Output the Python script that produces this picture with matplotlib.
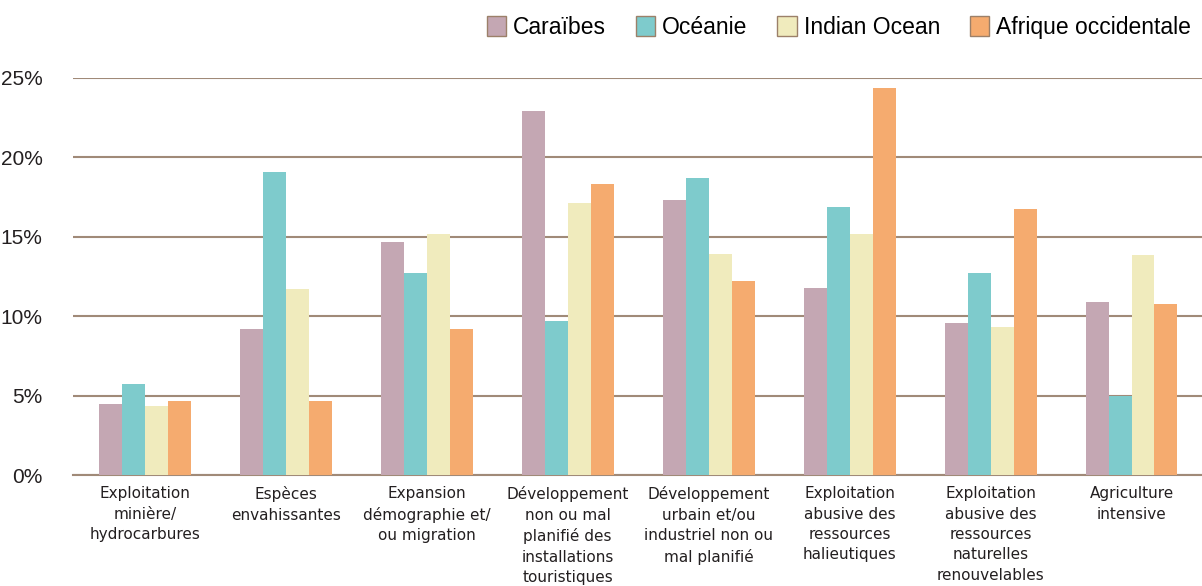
import matplotlib.pyplot as plt
import numpy as np

# categories and values (percent)
categories = [
    "Exploitation\nminière/\nhydrocarbures",
    "Espèces\nenvahissantes",
    "Expansion\ndémographie et/\nou migration",
    "Développement\nnon ou mal\nplanifié des\ninstallations\ntouristiques",
    "Développement\nurbain et/ou\nindustriel non ou\nmal planifié",
    "Exploitation\nabusive des\nressources\nhalieutiques",
    "Exploitation\nabusive des\nressources\nnaturelles\nrenouvelables",
    "Agriculture\nintensive",
]
series_names = ["Caraïbes", "Océanie", "Indian Ocean", "Afrique occidentale"]
caraibes = [4.5, 9.2, 14.7, 22.9, 17.3, 11.8, 9.6, 10.9]
oceanie = [5.7, 19.1, 12.7, 9.7, 18.7, 16.9, 12.7, 5.0]
indian_ocean = [4.35, 11.7, 15.2, 17.1, 13.9, 15.2, 9.3, 13.85]
afrique = [4.66, 4.66, 9.2, 18.3, 12.2, 24.4, 16.75, 10.8]
colors = ["#c4a7b3", "#7ecbcc", "#f0ebbd", "#f5ab6f"]

data = [caraibes, oceanie, indian_ocean, afrique]

fig = plt.figure(figsize=(12.02, 5.86), dpi=100)
ax = fig.add_axes([0.0607, 0.1894, 0.9393, 0.6775])

x = np.arange(len(categories))
w = 0.163
for i, (vals, name, c) in enumerate(zip(data, series_names, colors)):
    ax.bar(x + (i - 1.5) * w, vals, width=w, color=c, label=name, zorder=3)

ax.set_xlim(-0.51, 7.5)
ax.set_ylim(0, 25)
ax.set_yticks([0, 5, 10, 15, 20, 25])
ax.set_yticklabels(["0%", "5%", "10%", "15%", "20%", "25%"], fontsize=15,
                   color="#231f20", family="Liberation Sans")
ax.yaxis.grid(True, color="#a08a78", linewidth=1.5, zorder=0)
ax.tick_params(axis="y", length=0, pad=22)
ax.tick_params(axis="x", length=0, pad=8)
ax.set_xticks(x)
ax.set_xticklabels(categories, fontsize=11, color="#231f20",
                   family=["Liberation Sans Narrow", "DejaVu Sans"], linespacing=1.45)
for s in ["top", "right", "left"]:
    ax.spines[s].set_visible(False)
ax.spines["bottom"].set_color("#a08a78")
ax.spines["bottom"].set_linewidth(1.5)

handles = [plt.Rectangle((0, 0), 1, 1, facecolor=c, edgecolor="#9c8069", linewidth=1)
           for c in colors]
fig.legend(handles, series_names, loc="upper right", bbox_to_anchor=(1.008, 1.008),
           ncol=4, frameon=False, prop={"family": "Liberation Sans", "size": 16.5},
           handlelength=0.85, handleheight=1.0, handletextpad=0.3, columnspacing=1.3)

fig.savefig("out.png", dpi=100)
